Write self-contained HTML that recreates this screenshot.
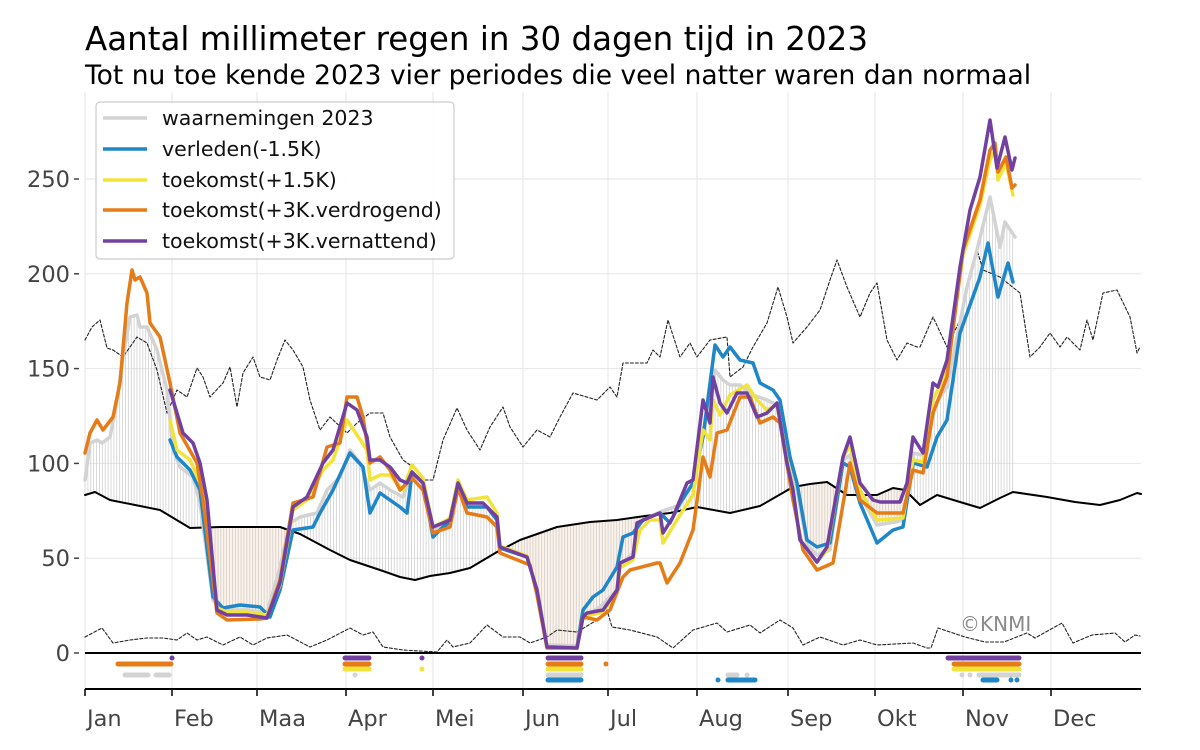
<!DOCTYPE html>
<html><head><meta charset="utf-8"><style>
body{margin:0;background:#fff;}
svg{display:block;font-family:"DejaVu Sans","Liberation Sans",sans-serif;}
</style></head><body>
<svg id="s" width="1200" height="750" viewBox="0 0 1200 750" xmlns="http://www.w3.org/2000/svg">
<text x="85" y="50" font-size="32.5" fill="#000">Aantal millimeter regen in 30 dagen tijd in 2023</text>
<text x="85" y="84" font-size="26.5" fill="#000">Tot nu toe kende 2023 vier periodes die veel natter waren dan normaal</text>
<g id="grid" stroke="#e6e6e6" stroke-width="1"></g>
<g id="hatch"></g>
<g id="lines" fill="none" stroke-linejoin="round" stroke-linecap="round"></g>
<line x1="85" y1="653" x2="1141" y2="653" stroke="#000" stroke-width="2"/>
<line x1="85" y1="689" x2="1141" y2="689" stroke="#000" stroke-width="2"/>
<g id="ev" stroke-linecap="round" stroke-width="5"></g>
<g id="ticks" font-size="22.5" fill="#444"></g>
<text x="960" y="631" font-size="20" fill="#8a8a8a">©KNMI</text>
<rect x="96" y="102" width="358" height="157" rx="4" fill="#fff" fill-opacity="0.9" stroke="#ccc" stroke-width="1.2"/>
<g font-size="20.5" fill="#111">
<line x1="103" y1="118" x2="147" y2="118" stroke="#d3d3d3" stroke-width="3.5"/><text x="162" y="125">waarnemingen 2023</text>
<line x1="103" y1="149" x2="147" y2="149" stroke="#1f86c8" stroke-width="3.5"/><text x="162" y="156">verleden(-1.5K)</text>
<line x1="103" y1="180" x2="147" y2="180" stroke="#f2e33a" stroke-width="3.5"/><text x="162" y="187">toekomst(+1.5K)</text>
<line x1="103" y1="210" x2="147" y2="210" stroke="#e57c17" stroke-width="3.5"/><text x="162" y="217">toekomst(+3K.verdrogend)</text>
<line x1="103" y1="241" x2="147" y2="241" stroke="#7240a0" stroke-width="3.5"/><text x="162" y="248">toekomst(+3K.vernattend)</text>
</g>
</svg>
<script>
const NS="http://www.w3.org/2000/svg";
function el(p,t,a){const e=document.createElementNS(NS,t);for(const k in a)e.setAttribute(k,a[k]);p.appendChild(e);return e;}
function pts(a){let s=[];for(let i=0;i<a.length;i+=2)s.push(a[i]+","+a[i+1]);return s.join(" ");}
function interp(a,x){for(let i=0;i<a.length-2;i+=2){if(x>=a[i]&&x<=a[i+2]){const t=(a[i+2]-a[i])?(x-a[i])/(a[i+2]-a[i]):0;return a[i+1]+t*(a[i+3]-a[i+1]);}}return null;}
const normal=[85,495,95,492,110,500,135,505,160,510,190,528,220,527,250,527,280,527,300,534,330,550,350,560,380,570,400,577,415,580,430,576,450,573,470,568,497,552,520,540,557,527,590,522,617,520,645,516,670,513,697,507,730,513,760,506,793,487,810,484,827,482,847,495,877,495,893,488,905,490,920,505,937,495,960,502,980,508,1000,498,1013,492,1047,497,1075,502,1100,505,1120,500,1137,493,1141,494];
const gray=[85,480,90,443,97,440,102,443,110,437,117,400,123,357,130,317,137,315,140,327,147,327,157,350,167,390,173,450,180,467,193,477,200,503,213,600,223,610,247,610,267,613,280,567,290,523,300,517,317,513,327,490,340,477,350,450,360,463,370,490,380,483,390,490,403,497,412,473,423,483,433,530,443,525,450,520,458,485,467,505,487,507,497,520,500,548,527,557,537,590,547,645,577,646,583,617,600,607,617,590,620,565,633,553,640,522,660,512,680,505,693,482,703,430,710,410,715,370,723,380,730,385,740,385,753,395,767,400,777,405,787,455,797,490,807,545,817,555,830,550,843,460,850,455,860,495,877,525,895,522,903,520,913,453,923,455,933,407,947,387,967,287,977,250,990,197,1000,247,1005,222,1015,237];
const yellow=[170,420,177,450,190,460,200,483,207,510,217,608,227,612,247,612,267,615,280,585,293,510,307,500,323,470,333,460,347,420,357,435,367,450,370,480,380,475,390,475,403,490,412,465,423,478,433,527,443,522,450,518,458,480,467,500,487,497,497,513,500,546,527,556,537,590,547,647,577,647,583,617,603,612,617,593,620,568,633,560,640,530,650,520,660,520,663,543,680,515,693,495,703,430,710,440,713,400,720,415,730,395,747,385,757,400,767,410,777,405,787,460,793,488,800,540,817,562,827,550,843,457,850,445,860,490,877,520,903,518,913,460,923,462,933,400,947,370,963,255,980,205,990,160,995,150,998,180,1006,163,1013,195];
const blue=[170,440,177,457,190,470,200,490,213,597,223,608,240,605,260,607,270,617,280,590,293,530,313,527,320,513,333,490,350,453,363,467,370,513,380,493,400,507,407,513,412,473,423,483,433,537,443,527,450,522,458,488,467,507,487,507,497,520,500,548,527,557,537,590,547,647,577,647,583,610,593,597,603,590,617,567,623,537,633,533,643,520,660,513,670,523,680,503,693,483,703,437,715,345,723,357,730,347,740,360,753,363,760,383,773,390,780,400,790,457,797,483,807,540,817,547,830,543,843,463,850,467,860,503,877,543,893,530,903,527,913,463,927,467,937,437,947,420,960,333,980,277,988,243,998,297,1008,263,1013,282];
const purple=[170,390,177,413,183,433,193,443,200,463,207,500,217,610,227,615,247,615,267,618,280,583,293,507,307,497,323,463,333,450,347,403,357,410,367,437,370,460,380,460,390,467,400,480,407,483,412,472,423,483,433,527,443,523,450,520,458,483,467,503,483,503,497,517,500,547,527,557,537,590,547,647,577,648,583,617,587,613,603,610,617,590,620,563,633,557,637,523,650,517,660,513,663,533,673,517,687,483,693,480,703,400,710,423,713,377,720,403,727,413,737,393,747,393,757,417,767,413,777,403,787,463,793,490,800,540,817,562,827,547,843,457,850,437,860,483,873,500,880,502,900,502,907,483,913,437,923,453,933,383,938,387,947,360,960,267,970,210,980,177,990,120,997,168,1005,137,1012,170,1015,158];
const orange=[85,453,90,433,97,420,103,430,113,417,120,383,127,303,132,270,135,280,140,277,147,293,150,323,160,337,170,383,180,433,197,463,203,500,217,613,227,620,260,619,267,618,280,580,293,503,313,497,327,447,340,443,347,397,357,397,363,417,370,463,380,457,390,470,400,490,412,478,423,490,433,533,450,527,458,488,467,513,487,517,497,527,500,553,530,565,537,595,547,648,577,648,583,617,597,620,610,610,623,577,630,570,657,563,660,563,667,583,680,563,693,530,703,457,710,477,717,433,727,430,740,397,750,397,760,423,773,417,780,423,793,500,803,550,817,570,833,563,850,463,860,500,877,513,903,513,913,470,923,473,933,413,947,377,963,250,980,200,990,150,995,143,998,172,1006,157,1012,188,1015,185];
const upper=[85,340,92,327,100,320,107,348,113,350,123,357,137,337,147,343,157,370,167,413,177,390,187,397,197,368,203,377,210,397,223,383,230,367,237,407,243,373,253,357,260,377,270,380,277,360,285,340,293,350,303,367,310,400,320,430,330,417,347,433,357,423,370,413,383,413,390,437,403,460,413,467,423,480,433,480,443,440,457,408,467,430,480,450,490,427,503,407,510,427,523,447,537,430,550,437,560,417,573,393,597,400,610,387,617,397,623,363,647,363,653,350,660,357,668,320,680,357,690,343,697,357,710,340,727,337,730,377,743,367,753,347,767,323,778,287,787,317,793,343,807,327,820,310,830,280,837,260,847,287,860,317,870,293,877,283,887,340,897,360,907,343,917,347,920,347,933,317,947,347,960,320,977,250,983,270,1000,277,1020,293,1030,357,1040,347,1050,333,1060,347,1067,337,1080,350,1087,320,1093,340,1103,293,1117,290,1130,317,1137,353,1140,347];
const lower=[85,637,102,628,113,643,130,640,147,638,163,638,177,640,187,633,197,640,207,637,223,645,240,637,253,645,267,638,287,635,310,647,327,640,350,628,363,635,373,632,383,647,403,650,437,652,447,640,453,647,470,643,487,625,503,637,520,637,530,643,547,637,557,630,577,632,597,620,607,610,612,627,630,630,657,637,673,648,693,630,717,623,727,632,750,625,760,633,780,620,793,628,803,645,820,637,843,645,860,640,877,645,913,643,927,648,931,648,938,628,965,637,985,642,1004,642,1027,633,1035,638,1062,623,1073,643,1092,635,1115,633,1125,642,1135,635,1140,636];

const g=document.getElementById("grid");
const months=[["Jan",85],["Feb",172],["Maa",257],["Apr",346],["Mei",433],["Jun",523],["Jul",608],["Aug",697],["Sep",788],["Okt",875],["Nov",963],["Dec",1051]];
[0,50,100,150,200,250].forEach(v=>{const y=653-v*1.896;el(g,"line",{x1:85,x2:1141,y1:y,y2:y});});
months.forEach(m=>el(g,"line",{x1:m[1],x2:m[1],y1:92,y2:689}));
const tk=document.getElementById("ticks");
[0,50,100,150,200,250].forEach(v=>{const y=653-v*1.896;el(tk,"line",{x1:74,x2:79,y1:y,y2:y,stroke:"#444","stroke-width":1.5});const t=el(tk,"text",{x:70,y:y+8,"text-anchor":"end"});t.textContent=v;});
months.forEach(m=>{el(tk,"line",{x1:m[1],x2:m[1],y1:689,y2:696,stroke:"#000","stroke-width":1.5});const t=el(tk,"text",{x:m[1]+2,y:726});t.textContent=m[0];});
const h=document.getElementById("hatch");
for(let x=85;x<=1015;x+=2.89){const gy=interp(gray,x),ny=interp(normal,x);if(gy==null||ny==null)continue;
 if(gy>ny) el(h,"rect",{x:x-1.45,y:ny,width:2.9,height:gy-ny,fill:"#fcf1e7"});
 el(h,"line",{x1:x,x2:x,y1:gy,y2:ny,stroke:"#d0d0d0","stroke-width":0.8});}
const L=document.getElementById("lines");
el(L,"polyline",{points:pts(upper),stroke:"#222","stroke-width":1.1,"stroke-dasharray":"3,2"});
el(L,"polyline",{points:pts(lower),stroke:"#222","stroke-width":1.1,"stroke-dasharray":"3,2"});
el(L,"polyline",{points:pts(normal),stroke:"#000","stroke-width":2});
[[gray,"#d3d3d3"],[blue,"#1f86c8"],[yellow,"#f2e33a"],[orange,"#e57c17"],[purple,"#7240a0"]].forEach(a=>el(L,"polyline",{points:pts(a[0]),stroke:a[1],"stroke-width":3.5}));
const E=document.getElementById("ev");
const rows={p:[658,"#7240a0"],o:[664,"#e57c17"],y:[669,"#f2e33a"],g:[675,"#d3d3d3"],b:[680,"#1f86c8"]};
const ev=[["o",118,171],["g",125,148],["g",156,169],["p",172,172],["p",345,369],["o",345,369],["y",345,369],["g",355,355],["p",422,422],["y",422,422],
["p",548,581],["o",548,581],["y",548,581],["g",548,581],["b",548,581],["o",606,606],
["b",718,718],["b",728,755],["g",728,737],["g",747,747],
["p",948,1019],["o",954,1019],["y",954,1019],["g",962,962],["g",970,970],["g",979,1019],["b",983,997],["b",1011,1011],["b",1017,1017]];
ev.forEach(e=>{const r=rows[e[0]];el(E,"line",{x1:e[1],x2:e[2],y1:r[0],y2:r[0],stroke:r[1]});});
</script>
</body></html>
